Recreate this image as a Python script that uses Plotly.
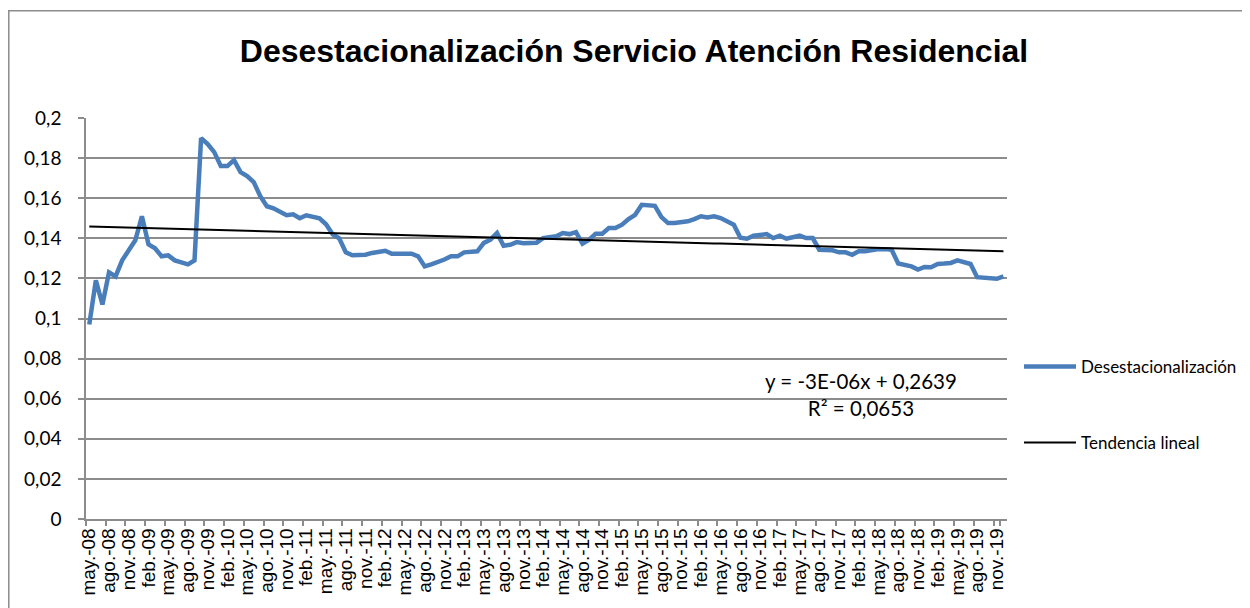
import plotly.graph_objects as go
import numpy as np

# Monthly series may-08 .. dic-19
meses = ['ene.', 'feb.', 'mar.', 'abr.', 'may.', 'jun.', 'jul.', 'ago.', 'sep.', 'oct.', 'nov.', 'dic.']
categorias = [f"{meses[(4 + k) % 12]}-{(8 + (4 + k) // 12):02d}" for k in range(140)]

desestacionalizacion = [
    0.097, 0.119, 0.107, 0.123, 0.121, 0.129, 0.134, 0.139, 0.151, 0.137,
    0.135, 0.131, 0.1315, 0.129, 0.128, 0.127, 0.129, 0.190, 0.187, 0.183,
    0.176, 0.176, 0.179, 0.173, 0.171, 0.168, 0.161, 0.156, 0.155, 0.1535,
    0.1515, 0.152, 0.150, 0.1515, 0.151, 0.150, 0.147, 0.142, 0.140, 0.133,
    0.1315, 0.1315, 0.1318, 0.1327, 0.133, 0.1338, 0.1323, 0.1323, 0.1327, 0.1323,
    0.131, 0.126, 0.127, 0.128, 0.1294, 0.131, 0.131, 0.133, 0.1332, 0.1335,
    0.1377, 0.1393, 0.1426, 0.1363, 0.1368, 0.1381, 0.1375, 0.1375, 0.1378, 0.1401,
    0.1405, 0.141, 0.1426, 0.1421, 0.1431, 0.1373, 0.1393, 0.1423, 0.1423, 0.1451,
    0.1451, 0.1468, 0.1496, 0.1517, 0.1567, 0.1567, 0.1562, 0.1506, 0.1476, 0.1476,
    0.148, 0.1485, 0.1496, 0.151, 0.1504, 0.151, 0.1501, 0.1485, 0.1468, 0.1403,
    0.1398, 0.1413, 0.1418, 0.1421, 0.1401, 0.1413, 0.1398, 0.1406, 0.1413, 0.1401,
    0.1401, 0.1343, 0.134, 0.134, 0.133, 0.133, 0.1318, 0.1335, 0.1335, 0.1343,
    0.1346, 0.1346, 0.1343, 0.1274, 0.1269, 0.126, 0.1244, 0.1257, 0.1256, 0.1272,
    0.1274, 0.1277, 0.129, 0.128, 0.1272, 0.1206, 0.1203, 0.1203, 0.1198, 0.121,
]

# linear trend fitted on the series
idx = np.arange(len(desestacionalizacion))
pend, inter = np.polyfit(idx, desestacionalizacion, 1)
tendencia = pend * idx + inter

etiquetas_x = categorias[::3]
ecuacion = "y = -3E-06x + 0,2639<br>R² = 0,0653"

# page has an 8px body margin, figure is sized to fill the rest of the window
W, H = 1242, 600
L, R, T, B = 78, 240, 110, 88
pw, ph = W - L - R, H - T - B

def px(x):
    return (x - L) / pw

def py(y):
    return (H - B - y) / ph

sans = 'Lato, Open Sans, sans-serif'
arial = 'Liberation Sans, Arial, sans-serif'

fig = go.Figure()

fig.add_trace(go.Scatter(
    x=categorias, y=desestacionalizacion, mode='lines',
    name='Desestacionalización',
    line=dict(color='#4A7EBB', width=4.5),
    legend='legend',
))
fig.add_trace(go.Scatter(
    x=categorias, y=tendencia, mode='lines',
    name='Tendencia lineal',
    line=dict(color='black', width=2),
    legend='legend2',
))

fig.add_annotation(
    x=px(856), y=py(387), xref='paper', yref='paper',
    text=ecuacion, showarrow=False, align='center',
    xanchor='center', yanchor='middle',
    font=dict(family=sans, size=20.5, color='black'),
)

# outer chart border
fig.add_shape(
    type='rect', xref='paper', yref='paper',
    x0=px(0.5), x1=px(1241), y0=py(640), y1=py(2.5),
    line=dict(color='#8c8c8c', width=1.5), fillcolor='rgba(0,0,0,0)',
)

fig.update_layout(
    width=W, height=H,
    margin=dict(l=L, r=R, t=T, b=B),
    paper_bgcolor='white', plot_bgcolor='white',
    separators=', ',
    showlegend=True,
    font=dict(family=arial, color='black'),
    title=dict(
        text='<b>Desestacionalización Servicio Atención Residencial</b>',
        x=626 / W, xref='container', xanchor='center',
        y=1 - 43 / H, yref='container', yanchor='middle',
        font=dict(size=32, family=arial, color='black'),
    ),
    legend=dict(
        x=1011 / W, y=1 - 359 / H, xref='container', yref='container',
        xanchor='left', yanchor='middle',
        bgcolor='rgba(0,0,0,0)', itemwidth=52,
        font=dict(family=sans, size=17),
    ),
    legend2=dict(
        x=1011 / W, y=1 - 435 / H, xref='container', yref='container',
        xanchor='left', yanchor='middle',
        bgcolor='rgba(0,0,0,0)', itemwidth=52,
        font=dict(family=sans, size=17),
    ),
)

fig.update_xaxes(
    type='category',
    tickmode='array', tickvals=etiquetas_x, ticktext=etiquetas_x,
    tickson='boundaries',
    tickangle=-90, tickfont=dict(size=19, family=arial),
    ticks='outside', ticklen=5, tickcolor='#8c8c8c', tickwidth=1.5,
    showgrid=False, showline=True, linecolor='#8c8c8c', linewidth=1.5,
    range=[-0.5, len(categorias) - 0.5],
)
fig.update_yaxes(
    range=[0, 0.2], dtick=0.02, tickfont=dict(size=19, family=sans),
    showgrid=True, gridcolor='#8c8c8c', gridwidth=1.5,
    showline=True, linecolor='#8c8c8c', linewidth=1.5,
    ticks='outside', ticklen=6, tickcolor='#8c8c8c', tickwidth=1.5,
    ticklabelstandoff=13, zeroline=False,
)

fig.write_html("out.html")
